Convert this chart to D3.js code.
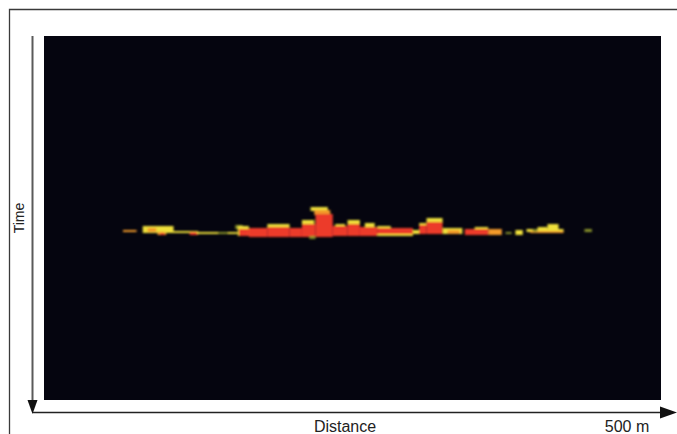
<!DOCTYPE html>
<html>
<head>
<meta charset="utf-8">
<script src="https://cdn.jsdelivr.net/npm/d3@7"></script>
<style>
	body { margin: 0; background: #fff; }
	svg { display: block; font-family: "Liberation Sans", Arial, sans-serif; }
</style>
</head>
<body>
<svg></svg>
<script>
// echo patches: distance from (m), distance to (m), ping from, ping to, level
var echoDist0 = [64, 80, 84, 92, 94, 98, 118, 124, 141, 155,
	157, 181, 209, 216, 219, 236, 246, 260, 270, 270, 299, 304, 310, 323, 327, 349, 360,
	158, 166, 181, 199, 209, 220, 234, 246, 256, 270, 304, 310, 341, 215,
	374, 382, 391, 394, 396, 400, 408, 438];
var echoDist1 = [75, 105, 91, 99, 98, 125, 125, 157, 149, 161,
	166, 199, 219, 230, 232, 244, 256, 268, 281, 299, 306, 310, 323, 339, 337, 360, 371,
	166, 181, 199, 209, 220, 234, 246, 256, 270, 299, 310, 323, 360, 220,
	379, 388, 421, 421, 400, 408, 417, 444];
var echoPing0 = [194, 190, 192, 196, 197, 195, 196, 196, 196, 189,
	190, 188, 184, 171, 174, 188, 184, 187, 190, 197, 194, 187, 182, 192, 194, 191, 193,
	193, 192, 191, 192, 188, 178, 190, 188, 191, 192, 189, 186, 193, 200,
	196, 194, 193, 195, 193, 191, 188, 193];
var echoPing1 = [196, 197, 196, 199, 199, 197, 199, 198, 198, 193,
	200, 192, 189, 175, 179, 191, 189, 192, 192, 200, 198, 190, 187, 198, 198, 194, 199,
	200, 201, 201, 201, 201, 201, 200, 200, 200, 198, 198, 198, 199, 203,
	198, 199, 196, 197, 196, 194, 194, 196];
var echoLevel = [3, 2, 3, 3, 4, 2, 4, 2, 1, 1,
	2, 2, 2, 2, 3, 2, 2, 2, 2, 2, 2, 2, 2, 2, 3, 2, 3,
	4, 4, 4, 4, 4, 4, 4, 4, 4, 4, 4, 4, 4, 1,
	1, 2, 2, 3, 1, 2, 2, 1];

var levels = [1, 2, 3, 4];
var levelColors = ["#86902a", "#efe03a", "#f39a2c", "#ec3a2c"];

var distanceRange = [0, 500];
var pingRange = [0, 364];
var axisLabels = ["Time", "Distance", "500 m"];

var svgWidth = 677, svgHeight = 434;
var plotLeft = 44, plotRight = 661, plotTop = 36, plotBottom = 400;

var svg = d3.select("svg")
	.attr("width", svgWidth)
	.attr("height", svgHeight);

var xScale = d3.scaleLinear().domain(distanceRange).range([plotLeft, plotRight]);
var yScale = d3.scaleLinear().domain(pingRange).range([plotTop, plotBottom]);
var colorScale = d3.scaleOrdinal().domain(levels).range(levelColors);

var echoes = echoDist0.map(function(d, i) {
	return { d0: d, d1: echoDist1[i], p0: echoPing0[i], p1: echoPing1[i], level: echoLevel[i] };
});

setFrame(svg);
setEchogram(svg);
setArrows(svg);
setLabels(svg);

// This function draws the cropped border of the figure
function setFrame(svg) {
	svg.append("path")
		.attr("d", "M9.5," + svgHeight + "V9.5H" + svgWidth)
		.attr("fill", "none")
		.attr("stroke", "#3a3a3a")
		.attr("stroke-width", 1.3);
}

// This function draws the black echogram and the echo patches
function setEchogram(svg) {
	var defs = svg.append("defs");
	defs.append("filter")
		.attr("id", "soft")
		.attr("x", "-5%").attr("y", "-50%")
		.attr("width", "110%").attr("height", "200%")
		.append("feGaussianBlur")
		.attr("stdDeviation", 0.8);

	svg.append("rect")
		.attr("x", xScale(distanceRange[0]))
		.attr("y", yScale(pingRange[0]))
		.attr("width", xScale(distanceRange[1]) - xScale(distanceRange[0]))
		.attr("height", yScale(pingRange[1]) - yScale(pingRange[0]))
		.attr("fill", "#05050f");

	svg.append("g")
		.attr("filter", "url(#soft)")
		.selectAll("rect")
		.data(echoes)
		.enter()
		.append("rect")
		.attr("x", function(d) { return xScale(d.d0); })
		.attr("y", function(d) { return yScale(d.p0); })
		.attr("width", function(d) { return xScale(d.d1) - xScale(d.d0); })
		.attr("height", function(d) { return yScale(d.p1) - yScale(d.p0); })
		.attr("fill", function(d) { return colorScale(d.level); });
}

// This function draws the time and distance arrows
function setArrows(svg) {
	var ax = 32.5, ay = 412.5;
	svg.append("line")
		.attr("x1", ax).attr("x2", ax)
		.attr("y1", yScale(pingRange[0])).attr("y2", 402)
		.attr("stroke", "#5a5a5a")
		.attr("stroke-width", 2);
	svg.append("path")
		.attr("d", "M" + (ax - 5) + ",400L" + (ax + 5) + ",400L" + ax + ",414Z")
		.attr("fill", "#111");

	svg.append("line")
		.attr("x1", 33).attr("x2", 662)
		.attr("y1", ay).attr("y2", ay)
		.attr("stroke", "#222")
		.attr("stroke-width", 1.3);
	svg.append("path")
		.attr("d", "M660," + (ay - 6) + "L677," + ay + "L660," + (ay + 6) + "Z")
		.attr("fill", "#111");
}

// This function sets the axis titles
function setLabels(svg) {
	svg.append("text")
		.attr("transform", "translate(24,218) rotate(-90)")
		.attr("text-anchor", "middle")
		.attr("font-size", 14)
		.attr("fill", "#222")
		.text(axisLabels[0]);

	svg.append("text")
		.attr("x", 345)
		.attr("y", 432)
		.attr("text-anchor", "middle")
		.attr("font-size", 16)
		.attr("fill", "#222")
		.text(axisLabels[1]);

	svg.append("text")
		.attr("x", 627)
		.attr("y", 432)
		.attr("text-anchor", "middle")
		.attr("font-size", 16)
		.attr("fill", "#222")
		.text(axisLabels[2]);
}
</script>
</body>
</html>
